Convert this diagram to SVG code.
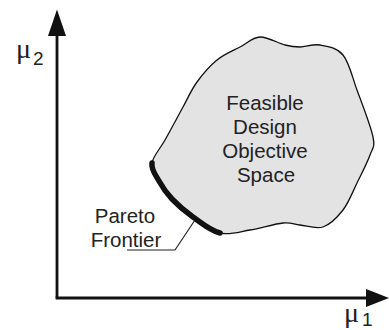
<svg xmlns="http://www.w3.org/2000/svg" width="389" height="330" viewBox="0 0 389 330">
<style>
.axis{stroke:#111;stroke-width:2.8;fill:none}
.head{fill:#111}
.lbl{font-family:"Liberation Sans",Arial,sans-serif;font-size:20.5px;fill:#222;text-anchor:middle}
.mu{font-family:"Liberation Serif","Times New Roman",serif;font-size:28px;fill:#222}
.sub{font-family:"Liberation Sans",Arial,sans-serif;font-size:19px;fill:#222}
</style>
<rect width="389" height="330" fill="#fff"/>
<g id="connectors">
<line class="axis" x1="57" y1="298" x2="57" y2="30"/>
<polygon class="head" points="57,9.5 48,36 66,36"/>
<line class="axis" x1="55.6" y1="298" x2="370" y2="298"/>
<polygon class="head" points="389,298 366,289 366,307"/>
<polyline points="195,220 175,250 127,250" fill="none" stroke="#222" stroke-width="1.2"/>
</g>
<g id="feasible-space">
<path d="M152,163 C153,156.2 159.8,149.3 165,140 C170.2,130.7 177.7,116.7 183,107 C188.3,97.3 191.3,89.8 197,82 C202.7,74.2 209.8,65.8 217,60 C224.2,54.2 232.8,50.8 240,47 C247.2,43.2 252.5,37.3 260,37 C267.5,36.7 278.3,43.3 285,45 C291.7,46.7 294.2,47 300,47 C305.8,47 312.8,43.7 320,45 C327.2,46.3 336.8,47.5 343,55 C349.2,62.5 352,76.3 357,90 C362,103.7 370.8,126.2 373,137 C375.2,147.8 372.7,147.3 370,155 C367.3,162.7 361.5,173.8 357,183 C352.5,192.2 348.7,202.7 343,210 C337.3,217.3 330.2,224.5 323,227 C315.8,229.5 306.7,225.7 300,225 C293.3,224.3 291.3,222.2 283,223 C274.7,223.8 260.5,228.3 250,230 C239.5,231.7 229.5,235.2 220,233 C210.5,230.8 201,222.7 193,217 C185,211.3 177.7,205 172,199 C166.3,193 162.3,187 159,181 C155.7,175 151,169.8 152,163 Z" fill="#e3e3e3" stroke="#111" stroke-width="1.3"/>
<text class="lbl" x="265" y="110">Feasible</text>
<text class="lbl" x="265" y="134">Design</text>
<text class="lbl" x="265" y="158">Objective</text>
<text class="lbl" x="266" y="182">Space</text>
</g>
<g id="pareto-frontier">
<path d="M220,233 C210.5,230.8 201,222.7 193,217 C185,211.3 177.7,205 172,199 C166.3,193 162.3,187 159,181 C155.7,175 151,169.8 152,163" fill="none" stroke="#111" stroke-width="5.5" stroke-linecap="round"/>
<text class="lbl" x="125" y="223">Pareto</text>
<text class="lbl" x="126" y="247">Frontier</text>
</g>
<g id="mu2-label">
<text class="mu" x="16" y="58">μ</text>
<text class="sub" x="33" y="65">2</text>
</g>
<g id="mu1-label">
<text class="mu" x="344" y="322">μ</text>
<text class="sub" x="362" y="326">1</text>
</g>
</svg>
